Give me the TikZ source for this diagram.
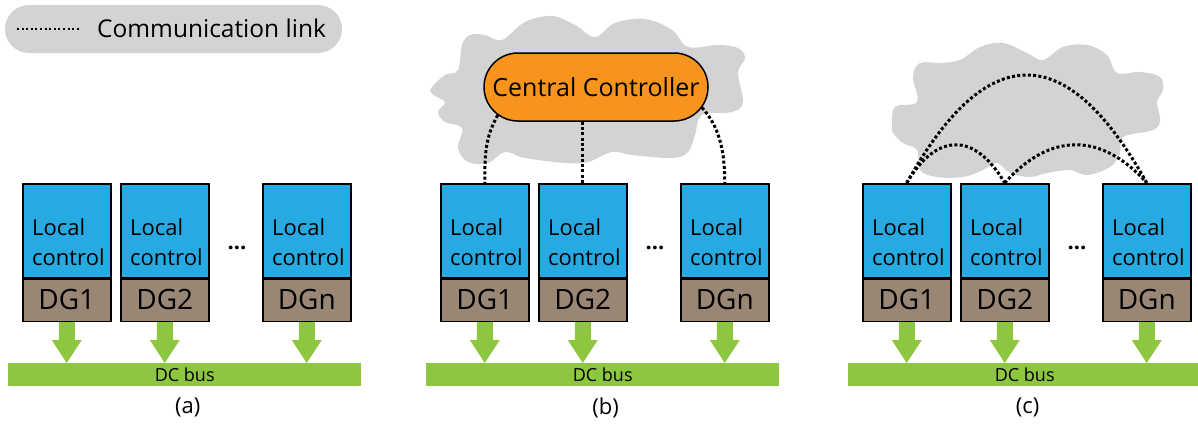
\documentclass[tikz,border=0pt]{standalone}
\usepackage{fontspec}
\setmainfont{Open Sans}
\usetikzlibrary{calc,shapes.misc}
\definecolor{lcblue}{RGB}{39,170,225}
\definecolor{dgbrown}{RGB}{153,134,117}
\definecolor{busgreen}{RGB}{141,198,63}
\definecolor{ccorange}{RGB}{247,148,30}
\definecolor{cloudgray}{RGB}{209,211,212}
\newcommand{\dgarrow}[2]{%
  \fill[busgreen] ($(#1.south)+(-8,0)$) -- ($(#1.south)+(8,0)$) -- ($(#1.south)+(8,18)$)
    -- ($(#1.south)+(15,18)$) -- (#1.south |- #2.north) -- ($(#1.south)+(-15,18)$)
    -- ($(#1.south)+(-8,18)$) -- cycle;}
\begin{document}
\begin{tikzpicture}[x=1pt,y=-1pt,
  lcbox/.style={rectangle,draw=black,line width=1.5pt,fill=lcblue,minimum width=88pt,minimum height=94pt,inner sep=0pt},
  dgbox/.style={rectangle,draw=black,line width=1.5pt,fill=dgbrown,minimum width=88pt,minimum height=42pt,inner sep=0pt},
  lctext/.style={inner sep=0pt,font=\fontsize{22}{26}\selectfont},
  dgtext/.style={inner sep=0pt,font=\fontsize{28}{33}\selectfont},
  busbar/.style={rectangle,fill=busgreen,minimum width=353pt,minimum height=23pt,inner sep=0pt,font=\fontsize{18}{21}\selectfont},
  panellabel/.style={inner sep=0pt,font=\fontsize{22}{26}\selectfont},
  dotsnode/.style={inner sep=0pt,font=\bfseries\fontsize{22}{26}\selectfont},
  ccbox/.style={rounded rectangle,draw=black,line width=1.5pt,fill=ccorange,minimum width=224pt,minimum height=68pt,inner sep=0pt,font=\fontsize{25}{30}\selectfont},
  comm/.style={line width=3pt,dash pattern=on 3pt off 2.3pt},
  commlegend/.style={line width=2pt,dash pattern=on 2pt off 2.6pt},
  legendbox/.style={rounded rectangle,fill=cloudgray,minimum width=337pt,minimum height=48pt,inner sep=0pt}]
\useasboundingbox (0,0) rectangle (1198,424);

% clouds
\fill[cloudgray] plot[smooth cycle,tension=0.6] coordinates {
 (432,87) (445,75) (458,70) (462,45) (470,35) (485,35) (502,40) (525,22) (552,16)
 (575,25) (595,37) (615,23) (645,19) (672,30) (688,47) (718,45) (738,48) (745,58)
 (738,73) (743,102) (732,112) (702,115) (695,135) (688,152) (672,158) (632,155)
 (612,152) (588,162) (565,163) (525,158) (505,152) (488,163) (468,162) (458,148)
 (462,128) (445,122) (438,112) (445,102) (432,94)};
\fill[cloudgray] plot[smooth cycle,tension=0.6] coordinates {
 (892,127) (895,107) (917,102) (913,77) (920,63) (940,63) (960,60) (980,47) (1003,43)
 (1027,53) (1043,60) (1063,47) (1087,45) (1107,55) (1117,73) (1140,72) (1160,77)
 (1163,90) (1157,102) (1160,120) (1153,130) (1123,137) (1120,153) (1110,167)
 (1087,175) (1070,170) (1047,173) (1030,177) (1010,173) (997,163) (983,170)
 (963,177) (937,177) (920,170) (917,150) (903,143) (893,133)};

% legend
\node[legendbox] (legend) at (173.5,29) {};
\coordinate (lgs) at (17,29);
\coordinate (lge) at (80,29);
\draw[commlegend] (lgs) -- (lge);
\node[anchor=base west,inner sep=0pt,font=\fontsize{24.5}{29}\selectfont] (lgtext) at (97,37) {Communication link};

% panels
\foreach \p/\o in {a/0,b/418,c/840}{
  \node[busbar,anchor=north west] (bus\p) at (\o+8,363) {DC bus};
  \node[panellabel] (lab\p) at ($(bus\p.south)+(3,21)$) {(\p)};
  \foreach \i/\x in {1/22,2/120,n/262}{
    \node[lcbox,anchor=north west] (lc\p\i) at (\o+\x,183) {};
    \node[dgbox,anchor=north west] (dg\p\i) at (lc\p\i.south west) {};
    \node[lctext,anchor=base west] (lt\p\i) at ($(lc\p\i.north west)+(10,52)$) {Local};
    \node[lctext,anchor=base west] (lu\p\i) at ($(lc\p\i.north west)+(10,82)$) {control};
    \node[dgtext,anchor=base] (dt\p\i) at ($(dg\p\i.north)+(0,31)$) {DG\i};
    \dgarrow{dg\p\i}{bus\p}
  }
  \node[dotsnode] (dots\p) at (\o+237,248) {...};
}

% central controller
\node[ccbox] (cc) at (596,87) {Central Controller};
\draw[comm] (cc.196) .. controls +(-12,22) and +(0,-32) .. (lcb1.north);
\draw[comm] (cc.south -| lcb2.north) -- (lcb2.north);
\draw[comm] (cc.349) .. controls +(16,18) and +(0,-36) .. (lcbn.north);

% distributed links
\draw[comm] (lcc1.north) .. controls +(80,-144) and +(-80,-144) .. (lccn.north);
\draw[comm] (lcc1.north) .. controls +(30,-51) and +(-30,-51) .. (lcc2.north);
\draw[comm] (lcc2.north) .. controls +(45,-51) and +(-45,-51) .. (lccn.north);
\end{tikzpicture}
\end{document}
